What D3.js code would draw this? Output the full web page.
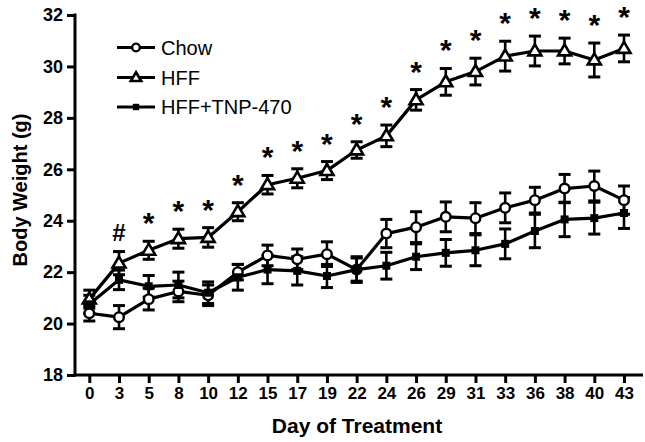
<!DOCTYPE html>
<html>
<head>
<meta charset="utf-8">
<script src="https://cdn.jsdelivr.net/npm/d3@7"></script>
<style>
  html, body { margin: 0; padding: 0; background: #fff; }
  svg { display: block; }
  text { font-family: "Liberation Sans", Arial, sans-serif; fill: #000; }
</style>
</head>
<body>
<svg id="chart" width="645" height="442"></svg>
<script>
// ---- data ----
const days = [0, 3, 5, 8, 10, 12, 15, 17, 19, 22, 24, 26, 29, 31, 33, 36, 38, 40, 43];
const chow    = [20.4, 20.25, 20.95, 21.25, 21.1, 22.0, 22.65, 22.5, 22.7, 22.1, 23.5, 23.75, 24.15, 24.1, 24.5, 24.8, 25.25, 25.35, 24.8];
const chowErr = [0.3, 0.45, 0.42, 0.4, 0.4, 0.3, 0.4, 0.4, 0.48, 0.5, 0.55, 0.6, 0.58, 0.6, 0.58, 0.5, 0.55, 0.58, 0.55];
const hff     = [20.95, 22.35, 22.85, 23.3, 23.35, 24.35, 25.4, 25.65, 25.95, 26.75, 27.3, 28.7, 29.4, 29.8, 30.4, 30.6, 30.6, 30.25, 30.7];
const hffErr  = [0.35, 0.45, 0.35, 0.37, 0.38, 0.35, 0.36, 0.37, 0.35, 0.32, 0.42, 0.4, 0.52, 0.52, 0.58, 0.58, 0.5, 0.66, 0.52];
const tnp     = [20.75, 21.7, 21.45, 21.5, 21.2, 21.8, 22.1, 22.05, 21.85, 22.1, 22.25, 22.6, 22.75, 22.85, 23.1, 23.6, 24.05, 24.1, 24.3];
const tnpErr  = [0.35, 0.38, 0.42, 0.5, 0.42, 0.5, 0.55, 0.55, 0.45, 0.45, 0.52, 0.5, 0.52, 0.6, 0.58, 0.65, 0.67, 0.62, 0.6];
const signif  = ["", "#", "*", "*", "*", "*", "*", "*", "*", "*", "*", "*", "*", "*", "*", "*", "*", "*", "*"];
const yTicks  = [18, 20, 22, 24, 26, 28, 30, 32];
const seriesNames = ["Chow", "HFF", "HFF+TNP-470"];
const yTitle = "Body Weight (g)";
const xTitle = "Day of Treatment";

// ---- layout ----
const svg = d3.select("#chart");
const axisX0 = 75, axisX1 = 643, axisY0 = 375, axisY1 = 15;

const x = d3.scalePoint().domain(days.map(String)).range([89.3, 624]).padding(0);
const y = d3.scaleLinear().domain([18, 32]).range([axisY0, axisY1]);

const series = [
  { name: seriesNames[0], vals: chow, err: chowErr, marker: "circle" },
  { name: seriesNames[1], vals: hff,  err: hffErr,  marker: "triangle" },
  { name: seriesNames[2], vals: tnp,  err: tnpErr,  marker: "square" }
];

// ---- axes ----
const axisW = 3;
const yAxis = d3.axisLeft(y).tickValues(yTicks).tickSize(8).tickSizeOuter(0).tickPadding(4);
const gy = svg.append("g").attr("transform", `translate(${axisX0},0)`).call(yAxis);
gy.select(".domain").remove();
gy.selectAll(".tick line").attr("stroke", "#000").attr("stroke-width", axisW);
gy.selectAll(".tick text").attr("font-size", 18).attr("font-weight", "bold")
  .attr("font-family", '"Liberation Sans", Arial, sans-serif').attr("fill", "#000");

const xAxis = d3.axisBottom(x).tickSize(8).tickSizeOuter(0).tickPadding(4);
const gx = svg.append("g").attr("transform", `translate(0,${axisY0})`).call(xAxis);
gx.select(".domain").remove();
gx.selectAll(".tick line").attr("stroke", "#000").attr("stroke-width", axisW);
gx.selectAll(".tick text").attr("font-size", 17).attr("font-weight", "bold")
  .attr("font-family", '"Liberation Sans", Arial, sans-serif').attr("fill", "#000");

svg.append("line").attr("x1", axisX0).attr("x2", axisX0)
  .attr("y1", axisY1 - 1.5).attr("y2", axisY0 + 1.5)
  .attr("stroke", "#000").attr("stroke-width", axisW);
svg.append("line").attr("x1", axisX0 - 1.5).attr("x2", axisX1)
  .attr("y1", axisY0).attr("y2", axisY0)
  .attr("stroke", "#000").attr("stroke-width", axisW);

svg.append("text").attr("transform", `translate(27,190) rotate(-90)`)
  .attr("text-anchor", "middle").attr("font-size", 20).attr("font-weight", "bold").text(yTitle);
svg.append("text").attr("x", 357).attr("y", 433)
  .attr("text-anchor", "middle").attr("font-size", 21).attr("font-weight", "bold").text(xTitle);

// ---- markers ----
function drawMarker(g, type, cx, cy, scale) {
  const s = scale || 1;
  if (type === "circle") {
    g.append("circle").attr("cx", cx).attr("cy", cy).attr("r", 4.8 * s)
      .attr("fill", "#fff").attr("stroke", "#000").attr("stroke-width", 2.4);
  } else if (type === "triangle") {
    const h = 11 * s, w = 13 * s;
    g.append("path")
      .attr("d", `M${cx},${cy - h * 0.6} L${cx + w / 2},${cy + h * 0.4} L${cx - w / 2},${cy + h * 0.4} Z`)
      .attr("fill", "#fff").attr("stroke", "#000").attr("stroke-width", 2.6).attr("stroke-linejoin", "miter");
  } else {
    const a = 8 * s;
    g.append("rect").attr("x", cx - a / 2).attr("y", cy - a / 2).attr("width", a).attr("height", a)
      .attr("fill", "#000");
  }
}

const plot = svg.append("g");
const line = d3.line().x((d, i) => x(String(days[i]))).y(d => y(d));

// error bars
series.forEach(s => {
  const g = plot.append("g");
  s.vals.forEach((v, i) => {
    const cx = x(String(days[i]));
    const yt = y(v + s.err[i]), yb = y(v - s.err[i]);
    g.append("line").attr("x1", cx).attr("x2", cx).attr("y1", yt).attr("y2", yb)
      .attr("stroke", "#000").attr("stroke-width", 2.6);
    [yt, yb].forEach(yy => g.append("line").attr("x1", cx - 6).attr("x2", cx + 6)
      .attr("y1", yy).attr("y2", yy).attr("stroke", "#000").attr("stroke-width", 3));
  });
});
// lines
series.forEach(s => {
  plot.append("path").datum(s.vals).attr("d", line)
    .attr("fill", "none").attr("stroke", "#000").attr("stroke-width", 3.2).attr("stroke-linejoin", "round");
});
// markers
series.forEach(s => {
  const g = plot.append("g");
  s.vals.forEach((v, i) => drawMarker(g, s.marker, x(String(days[i])), y(v)));
});

// significance marks
signif.forEach((m, i) => {
  if (!m) return;
  const top = y(hff[i] + hffErr[i]);
  const t = svg.append("text").attr("x", x(String(days[i]))).attr("text-anchor", "middle").text(m);
  if (m === "#") {
    t.attr("y", top - 11).attr("font-size", 24).attr("font-weight", "bold");
  } else {
    t.attr("y", top - 8).attr("font-size", 30).attr("font-weight", "bold");
  }
});

// ---- legend ----
const legendRows = [47.5, 77.5, 107];
series.forEach((s, i) => {
  const g = svg.append("g");
  const ly = legendRows[i];
  g.append("line").attr("x1", 117).attr("x2", 155).attr("y1", ly).attr("y2", ly)
    .attr("stroke", "#000").attr("stroke-width", 3);
  drawMarker(g, s.marker, 136, ly, 0.8);
  g.append("text").attr("x", 161).attr("y", ly + 7).attr("font-size", 20).text(s.name);
});
</script>
</body>
</html>
